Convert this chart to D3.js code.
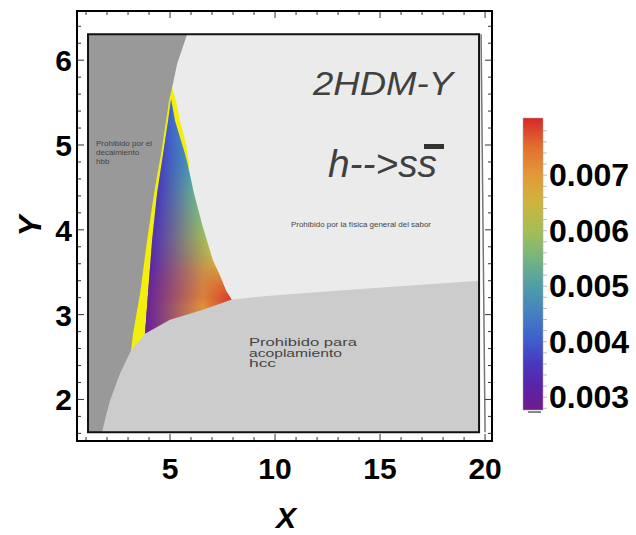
<!DOCTYPE html>
<html>
<head>
<meta charset="utf-8">
<script src="https://cdn.jsdelivr.net/npm/d3@7"></script>
<style>
  body { margin: 0; background: #fff; }
  svg { display: block; font-family: "Liberation Sans", Arial, sans-serif; }
</style>
</head>
<body>
<div id="chart"></div>
<script>
/*
SET UP
*/
const W = 636;
const H = 535;
const frame = { left: 77, right: 492, top: 11, bottom: 441 };

// axis ranges and ticks
const xDomain = [0.57, 20.33];
const yDomain = [1.51, 6.58];
const xTicks = [5, 10, 15, 20];
const yTicks = [2, 3, 4, 5, 6];

// plotted box (X, Y)
const plotBox = [[1.095, 6.306], [19.714, 6.306], [19.714, 1.612], [1.095, 1.612]];
const boxShadow = [[19.81, 6.306], [20.0, 1.612]];

// region forbidden by h -> bb decay (dark gray)
const hbbRegion = [
  [1.095, 6.306], [5.810, 6.306], [5.333, 5.953], [5.095, 5.671], [4.952, 5.518],
  [4.810, 5.282], [4.571, 4.894], [4.381, 4.635], [4.238, 4.424], [3.905, 3.871],
  [3.571, 3.247], [3.429, 3.047], [3.238, 2.776], [3.143, 2.576], [2.857, 1.988],
  [2.619, 1.612], [1.095, 1.612]
];

// yellow band around the allowed region
const yellowRegion = [
  [5.095, 5.682], [5.286, 5.518], [5.476, 5.282], [5.762, 5.012], [5.905, 4.788],
  [5.476, 3.753], [3.571, 2.635], [2.619, 2.224], [4.048, 5.400]
];

// allowed region edges with their values
const leftEdge = [
  [5.048, 5.541], [4.905, 5.282], [4.667, 4.894], [4.381, 4.424],
  [4.143, 3.871], [3.952, 3.247], [3.810, 2.776], [3.714, 2.576]
];
const leftVals = [0.0041, 0.0040, 0.0038, 0.0036, 0.0034, 0.0031, 0.0030, 0.0029];
const rightEdge = [
  [5.048, 5.541], [5.238, 5.282], [5.714, 4.894], [5.857, 4.753], [6.143, 4.424],
  [6.571, 4.024], [7.048, 3.635], [7.381, 3.459], [7.667, 3.282], [7.905, 3.188],
  [8.095, 3.094]
];
const rightVals = [0.0041, 0.0043, 0.0046, 0.0048, 0.0053, 0.0058, 0.0064, 0.0068, 0.0074, 0.0079, 0.0080];
// values along the lower edge (X positions)
const bottomX = [3.81, 6.57, 7.90];
const bottomVals = [0.0030, 0.0071, 0.0079];

// region forbidden for hcc coupling (lower, light gray)
const couplingCurve = [
  [1.762, 1.612], [1.952, 1.812], [2.143, 1.988], [2.619, 2.306], [3.143, 2.576],
  [3.810, 2.776], [5.000, 2.941], [6.571, 3.059], [7.905, 3.176], [9.762, 3.224],
  [13.571, 3.294], [19.714, 3.400]
];

// colour bar
const cbDomain = [0.00277, 0.00803];
const cbTicks = [0.003, 0.004, 0.005, 0.006, 0.007];
const rainbowVals = [0.00277, 0.0032, 0.0036, 0.0040, 0.0045, 0.0050, 0.0055, 0.0060, 0.0065, 0.0070, 0.0075, 0.00803];
const rainbowCols = ["#701a8c", "#5a24a8", "#4838bc", "#3f5ccc", "#4480c0", "#4f9ea8",
                     "#76b482", "#a6bd54", "#ceb43e", "#e29a38", "#e2702f", "#d7282a"];

/*
SVG + SCALES
*/
const svg = d3.select("#chart").append("svg").attr("width", W).attr("height", H);
const defs = svg.append("defs");

const x = d3.scaleLinear().domain(xDomain).range([frame.left, frame.right]);
const y = d3.scaleLinear().domain(yDomain).range([frame.bottom, frame.top]);
const line = d3.line().x(d => x(d[0])).y(d => y(d[1]));
const poly = pts => line(pts) + "Z";

const colour = d3.scaleLinear().domain(rainbowVals).range(rainbowCols)
  .interpolate(d3.interpolateRgb).clamp(true);

/*
REGIONS
*/
svg.append("path").attr("d", poly(plotBox)).attr("fill", "#ebebeb");
svg.append("path").attr("d", poly(yellowRegion)).attr("fill", "#f2ef0c");

// allowed region: row strips shaded between the edge colours
const leftX = d3.scaleLinear().domain(leftEdge.map(d => d[1])).range(leftEdge.map(d => d[0]));
const leftV = d3.scaleLinear().domain(leftEdge.map(d => d[1])).range(leftVals);
const rightX = d3.scaleLinear().domain(rightEdge.map(d => d[1])).range(rightEdge.map(d => d[0]));
const rightV = d3.scaleLinear().domain(rightEdge.map(d => d[1])).range(rightVals);

defs.append("clipPath").attr("id", "allowedClip")
  .append("path").attr("d", poly(leftEdge.concat(rightEdge.slice().reverse())));

const topY = leftEdge[0][1];
const lowY = leftEdge[leftEdge.length - 1][1];
const rows = d3.range(Math.floor(y(topY)), Math.ceil(y(lowY)) + 1);
const strips = rows.map(py => {
  const Y = y.invert(py + 0.5);
  return { py, xl: x(leftX(Y)), xr: x(rightX(Y)), cl: colour(leftV(Y)), cr: colour(rightV(Y)) };
});

defs.selectAll(".sg").data(strips).join("linearGradient")
  .attr("class", "sg")
  .attr("id", (d, i) => "sg" + i)
  .attr("gradientUnits", "userSpaceOnUse")
  .attr("x1", d => d.xl).attr("x2", d => d.xr).attr("y1", 0).attr("y2", 0)
  .selectAll("stop").data(d => [[0, d.cl], [1, d.cr]]).join("stop")
  .attr("offset", s => s[0]).attr("stop-color", s => s[1]);

const allowed = svg.append("g").attr("clip-path", "url(#allowedClip)");
allowed.selectAll("rect").data(strips).join("rect")
  .attr("x", d => d.xl - 3).attr("width", d => d.xr - d.xl + 6)
  .attr("y", d => d.py).attr("height", 1.3)
  .attr("fill", (d, i) => `url(#sg${i})`);

// lower edge shading, fading out upwards
const x0 = x(bottomX[0]), x1 = x(bottomX[bottomX.length - 1]);
const bg = defs.append("linearGradient").attr("id", "bottomGrad")
  .attr("gradientUnits", "userSpaceOnUse")
  .attr("x1", x0).attr("x2", x1).attr("y1", 0).attr("y2", 0);
bg.selectAll("stop").data(bottomX).join("stop")
  .attr("offset", d => (x(d) - x0) / (x1 - x0))
  .attr("stop-color", (d, i) => colour(bottomVals[i]));
const fade = defs.append("linearGradient").attr("id", "fadeGrad")
  .attr("gradientUnits", "userSpaceOnUse")
  .attr("x1", 0).attr("x2", 0).attr("y1", y(3.7)).attr("y2", y(3.1));
fade.append("stop").attr("offset", 0).attr("stop-color", "#000");
fade.append("stop").attr("offset", 1).attr("stop-color", "#fff");
defs.append("mask").attr("id", "fadeMask")
  .append("rect").attr("x", 0).attr("y", 0).attr("width", W).attr("height", H)
  .attr("fill", "url(#fadeGrad)");
allowed.append("rect")
  .attr("x", x(3.5)).attr("width", x(8.3) - x(3.5))
  .attr("y", y(topY)).attr("height", y(lowY) - y(topY))
  .attr("fill", "url(#bottomGrad)").attr("mask", "url(#fadeMask)");

svg.append("path").attr("d", poly(hbbRegion)).attr("fill", "#999999");
svg.append("path")
  .attr("d", poly(couplingCurve.concat([[19.714, 1.612]])))
  .attr("fill", "#cccccc");

// box outline
svg.append("path").attr("d", poly(plotBox))
  .attr("fill", "none").attr("stroke", "#111").attr("stroke-width", 2);
svg.append("path").attr("d", line(boxShadow))
  .attr("fill", "none").attr("stroke", "#777").attr("stroke-width", 1.5);

/*
LABELS INSIDE
*/
const txt = svg.append("g").attr("fill", "#444");
["Prohibido por el", "decaimiento", "hbb"].forEach((t, i) => {
  txt.append("text").attr("x", 96).attr("y", 146 + i * 9).attr("font-size", 8).text(t);
});
txt.append("text").attr("x", 291).attr("y", 227).attr("font-size", 7)
  .attr("textLength", 140).attr("lengthAdjust", "spacingAndGlyphs")
  .text("Prohibido por la física general del sabor");
[["Prohibido para", 108], ["acoplamiento", 93], ["hcc", 27]].forEach((t, i) => {
  txt.append("text").attr("x", 249).attr("y", 346 + i * 10.5).attr("font-size", 10.5)
    .attr("textLength", t[1]).attr("lengthAdjust", "spacingAndGlyphs").text(t[0]);
});

const title = svg.append("g").attr("fill", "#404040").attr("font-style", "italic");
title.append("text").attr("x", 313).attr("y", 95).attr("font-size", 34)
  .attr("textLength", 140).attr("lengthAdjust", "spacingAndGlyphs").text("2HDM-Y");
title.append("text").attr("x", 328).attr("y", 177).attr("font-size", 38)
  .attr("textLength", 109).attr("lengthAdjust", "spacingAndGlyphs").text("h-->ss");
title.append("rect").attr("x", 424).attr("y", 144).attr("width", 20).attr("height", 5).attr("fill", "#333");

/*
FRAME, TICKS
*/
const tk = svg.append("g").attr("stroke", "#333").attr("stroke-width", 1);
const xMinor = d3.range(1, 21);
const yMinor = d3.range(1.6, 6.5, 0.2);
xMinor.forEach(v => {
  const len = xTicks.includes(v) ? 7 : 4;
  tk.append("line").attr("x1", x(v)).attr("x2", x(v)).attr("y1", frame.bottom).attr("y2", frame.bottom - len);
  tk.append("line").attr("x1", x(v)).attr("x2", x(v)).attr("y1", frame.top).attr("y2", frame.top + len);
});
yMinor.forEach(v => {
  const len = yTicks.some(t => Math.abs(t - v) < 1e-6) ? 7 : 4;
  tk.append("line").attr("y1", y(v)).attr("y2", y(v)).attr("x1", frame.left).attr("x2", frame.left + len);
  tk.append("line").attr("y1", y(v)).attr("y2", y(v)).attr("x1", frame.right).attr("x2", frame.right - len);
});

svg.append("rect")
  .attr("x", frame.left).attr("y", frame.top)
  .attr("width", frame.right - frame.left).attr("height", frame.bottom - frame.top)
  .attr("fill", "none").attr("stroke", "#000").attr("stroke-width", 2);

const lab = svg.append("g").attr("font-weight", "bold").attr("font-size", 30).attr("fill", "#000");
lab.selectAll(".xt").data(xTicks).join("text")
  .attr("x", d => x(d)).attr("y", 479).attr("text-anchor", "middle").text(d => d);
lab.selectAll(".yt").data(yTicks).join("text")
  .attr("x", 72).attr("y", d => y(d) + 11).attr("text-anchor", "end").text(d => d);

svg.append("text").attr("x", 286).attr("y", 528).attr("text-anchor", "middle")
  .attr("font-size", 30).attr("font-weight", "bold").attr("font-style", "italic").text("X");
svg.append("text").attr("transform", "translate(41,226) rotate(-90)").attr("text-anchor", "middle")
  .attr("font-size", 31).attr("font-weight", "bold").attr("font-style", "italic").text("Y");

/*
COLOUR BAR
*/
const cb = d3.scaleLinear().domain(cbDomain).range([410, 118]);
const cbGrad = defs.append("linearGradient").attr("id", "cbGrad")
  .attr("x1", 0).attr("y1", 1).attr("x2", 0).attr("y2", 0);
cbGrad.selectAll("stop").data(rainbowVals).join("stop")
  .attr("offset", d => (d - cbDomain[0]) / (cbDomain[1] - cbDomain[0]))
  .attr("stop-color", (d, i) => rainbowCols[i]);

svg.append("rect").attr("x", 523).attr("y", cb(cbDomain[1])).attr("width", 20)
  .attr("height", cb(cbDomain[0]) - cb(cbDomain[1]))
  .attr("fill", "url(#cbGrad)").attr("stroke", "#aaa").attr("stroke-width", 0.5);

const cbMinor = d3.range(0.0028, 0.0080, 0.0002);
svg.append("g").attr("stroke", "#bbb").attr("stroke-width", 1)
  .selectAll("line").data(cbMinor).join("line")
  .attr("x1", 543).attr("x2", 547).attr("y1", d => cb(d)).attr("y2", d => cb(d));
svg.append("line").attr("x1", 528).attr("x2", 541).attr("y1", 412).attr("y2", 412)
  .attr("stroke", "#888").attr("stroke-width", 2);

svg.append("g").attr("font-weight", "bold").attr("font-size", 32)
  .selectAll("text").data(cbTicks).join("text")
  .attr("x", 549).attr("y", d => cb(d) + 11).text(d => d.toFixed(3));
</script>
</body>
</html>
